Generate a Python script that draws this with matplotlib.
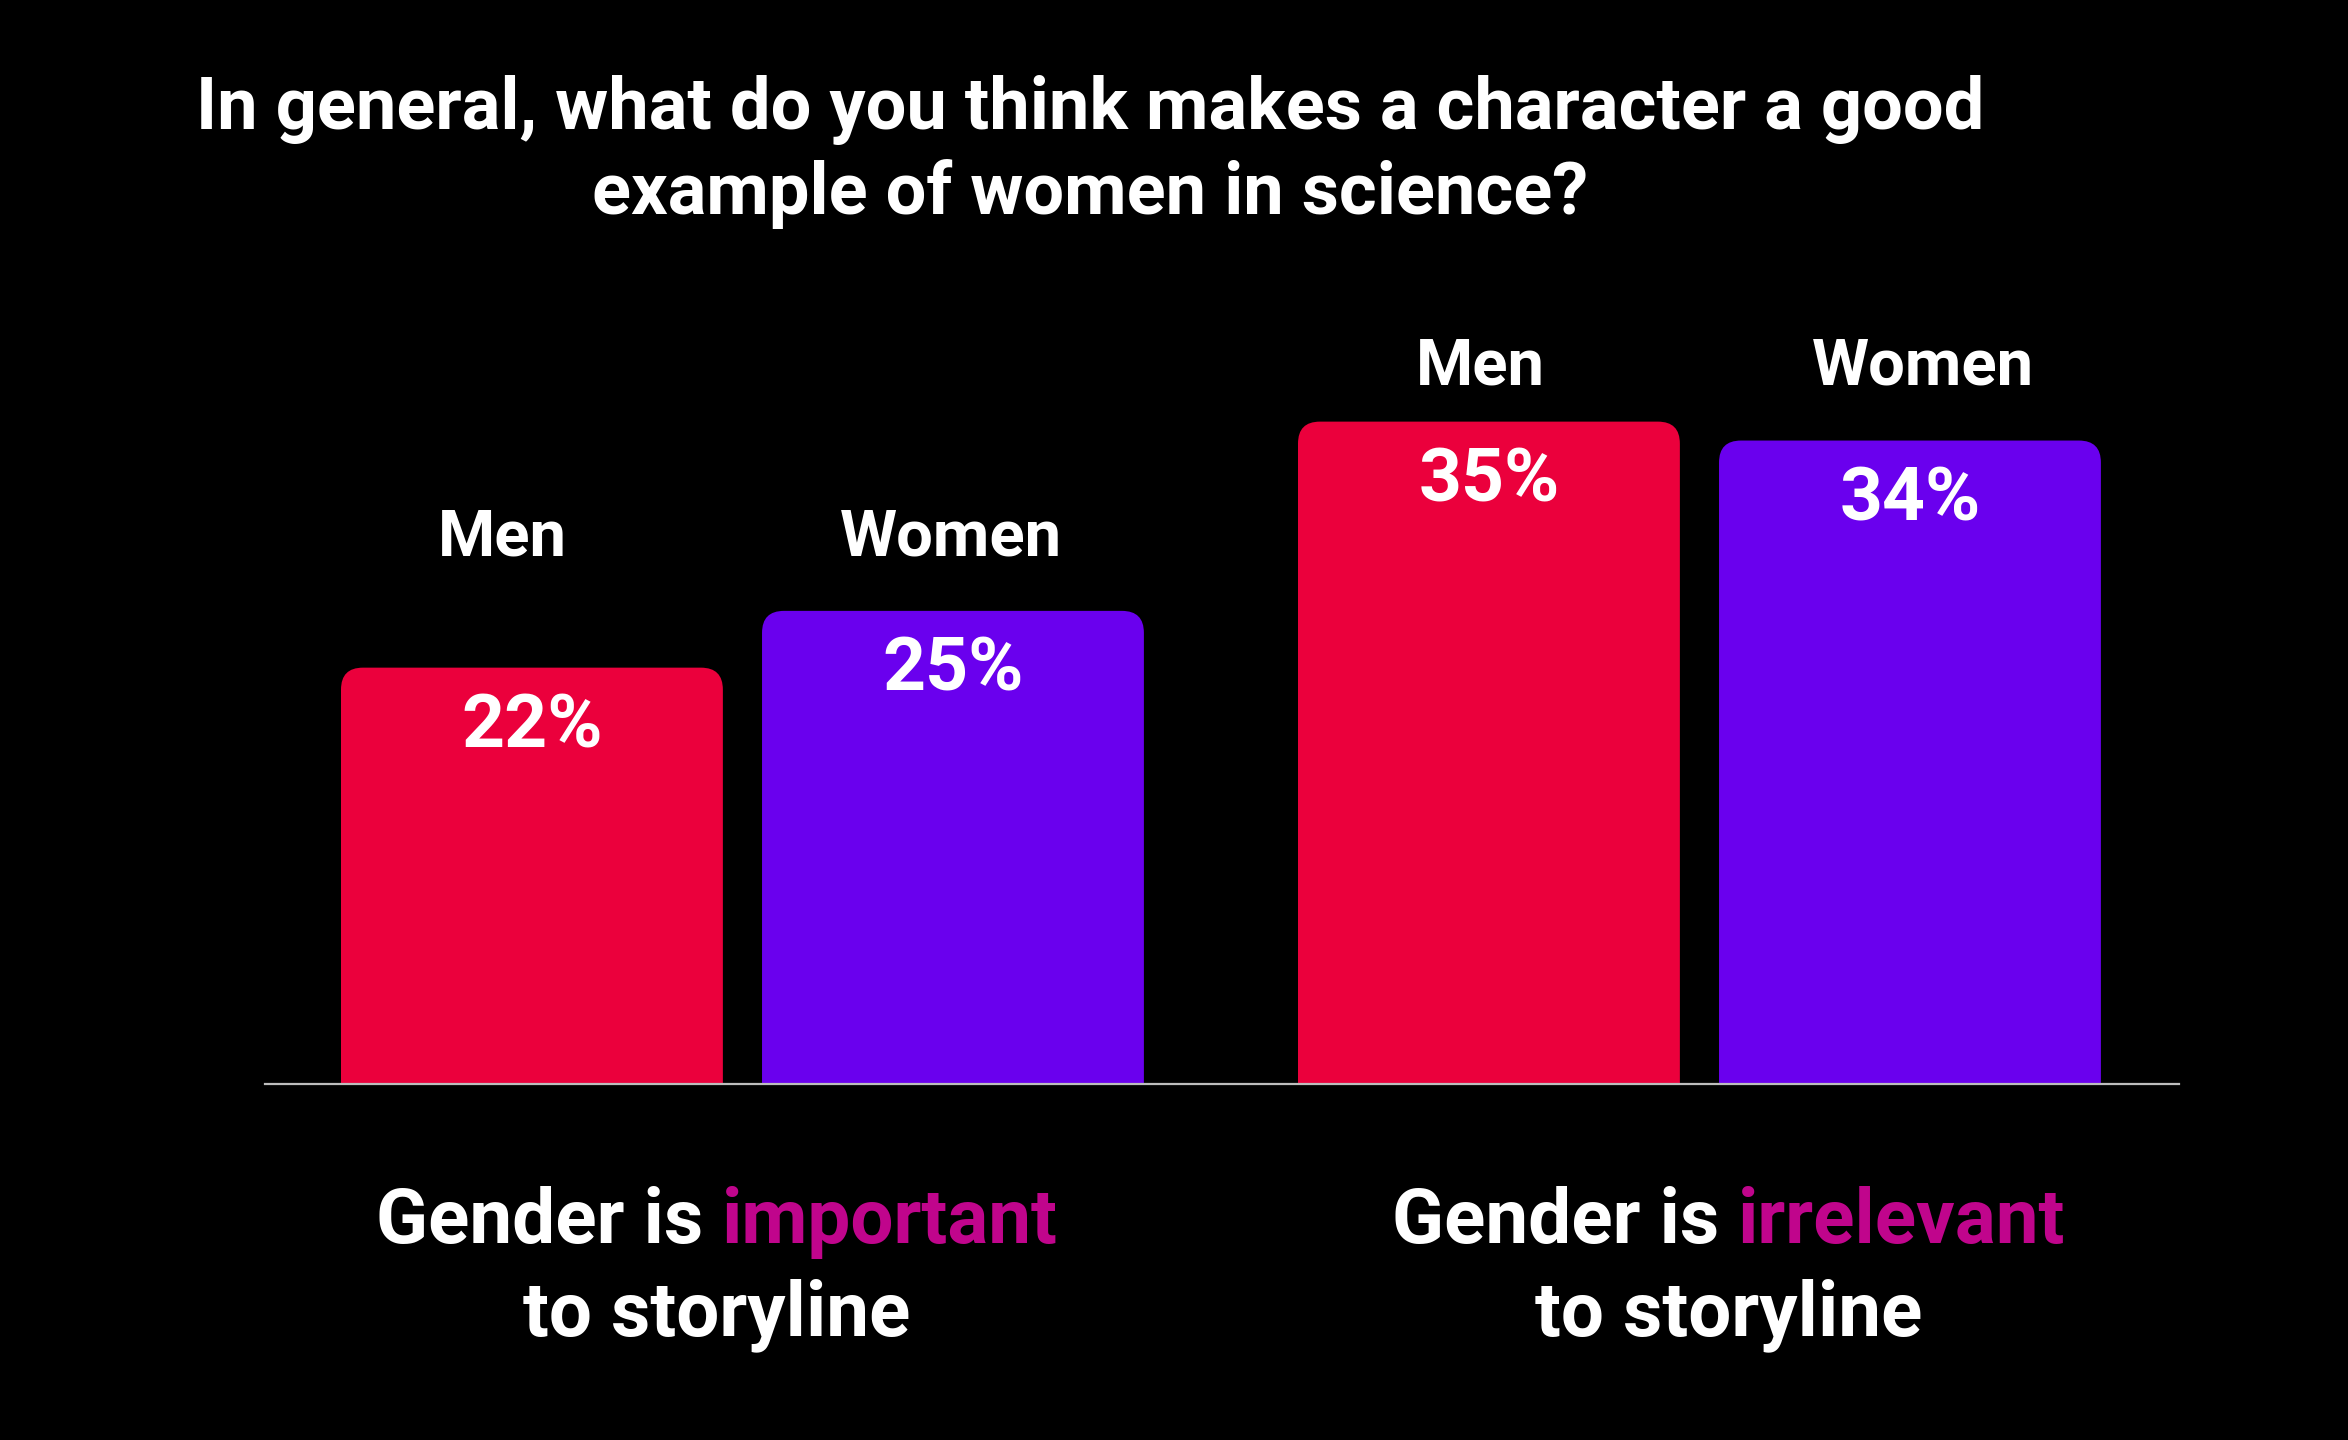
import matplotlib
matplotlib.use("Agg")
import matplotlib.pyplot as plt
from matplotlib.patches import FancyBboxPatch
import numpy as np

# ---- data ---------------------------------------------------
title_lines = ["In general, what do you think makes a character a good",
               "example of women in science?"]
series = ["Men", "Women"]
men_vals = [22, 35]
women_vals = [25, 34]
group_lead = ["Gender is ", "Gender is "]
group_key = ["important", "irrelevant"]
group_tail = ["to storyline", "to storyline"]

# ---- style --------------------------------------------------
RED = "#EB003C"
PURPLE = "#6A00EE"
MAGENTA = "#C0058C"
FONT = ["Roboto", "DejaVu Sans"]
plt.rcParams["font.family"] = FONT

fig = plt.figure(figsize=(23.48, 14.4), dpi=100, facecolor="black")
ax = fig.add_axes([265 / 2348, 356 / 1440, 1914 / 2348, 757 / 1440])
ax.set_facecolor("black")
ax.set_xlim(-0.634, 3.912)
ax.set_ylim(0, 40)
ax.axis("off")

group_step = 2.273
bar_w = 0.907
centers = np.arange(len(men_vals)) * group_step
x_men = centers
x_women = centers + 1

bars_m = ax.bar(x_men, men_vals, width=bar_w, color=RED)
bars_w = ax.bar(x_women, women_vals, width=bar_w, color=PURPLE)

# swap the plain rectangles for ones with rounded top corners
rad = 0.052
aspect = 1.16 / rad
for bars in (bars_m, bars_w):
    for r in bars:
        x0, w, h = r.get_x(), r.get_width(), r.get_height()
        p = FancyBboxPatch((x0, -3), w, h + 3,
                           boxstyle=f"round,pad=0,rounding_size={rad}",
                           mutation_aspect=aspect,
                           facecolor=r.get_facecolor(), edgecolor="none")
        ax.add_patch(p)
        r.remove()

ax.axhline(0, color="#BDBDBD", lw=1.6, clip_on=False, zorder=5)

# value labels inside the bars
for xs, vals in ((x_men, men_vals), (x_women, women_vals)):
    for x, v in zip(xs, vals):
        ax.text(x, v - 4.2, f"{v}%", ha="center", va="baseline",
                color="white", fontsize=54, fontweight="bold")

# series labels above each group (slightly off-centre, as in the source)
men_shift = [-0.07, -0.02]
women_shift = [-0.005, 0.03]
for g in range(len(centers)):
    ytop = women_vals[g] + 2.95
    ax.text(x_men[g] + men_shift[g], ytop, series[0], ha="center",
            va="baseline", color="white", fontsize=47, fontweight="bold")
    ax.text(x_women[g] + women_shift[g], ytop, series[1], ha="center",
            va="baseline", color="white", fontsize=47, fontweight="bold")

# group captions under the axis, with a coloured key word
fig.canvas.draw()
renderer = fig.canvas.get_renderer()
cap_shift = [-0.06, 0.07]
for g in range(len(centers)):
    cx = centers[g] + 0.5 + cap_shift[g]
    full = ax.text(cx, -8.4, group_lead[g] + group_key[g], ha="center",
                   va="baseline", color="white", fontsize=55,
                   fontweight="bold")
    bb = full.get_window_extent(renderer)
    full.remove()
    x_left = ax.transData.inverted().transform((bb.x0, 0))[0]
    x_right = ax.transData.inverted().transform((bb.x1, 0))[0]
    ax.text(x_left, -8.4, group_lead[g].strip(), ha="left", va="baseline",
            color="white", fontsize=55, fontweight="bold")
    ax.text(x_right, -8.4, group_key[g], ha="right", va="baseline",
            color=MAGENTA, fontsize=55, fontweight="bold")
    ax.text(cx, -13.3, group_tail[g], ha="center", va="baseline",
            color="white", fontsize=55, fontweight="bold")

# title
fig.text(1090 / 2348, 1 - 129 / 1440, title_lines[0], ha="center",
         va="baseline", color="white", fontsize=52, fontweight="bold")
fig.text(1090 / 2348, 1 - 214 / 1440, title_lines[1], ha="center",
         va="baseline", color="white", fontsize=52, fontweight="bold")

fig.savefig("out.png", dpi=100, facecolor="black")
